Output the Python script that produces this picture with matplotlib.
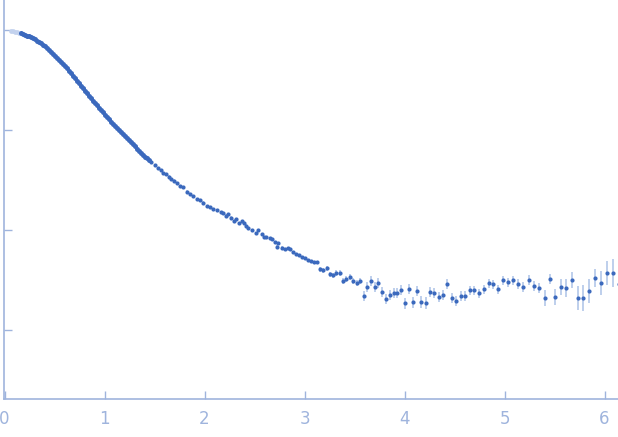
import matplotlib
matplotlib.use('Agg')
import numpy as np
import matplotlib.pyplot as plt

# scattering curve, values (log10 of intensity)
q_excl = [0.06, 0.08, 0.10, 0.12, 0.14]
logi_excl = [-0.010, -0.013, -0.017, -0.021, -0.026]

q_low = [0.16, 0.18, 0.20, 0.22, 0.24, 0.26, 0.28, 0.30, 0.32, 0.34,
         0.36, 0.38, 0.40, 0.42, 0.44, 0.46, 0.48, 0.50, 0.52, 0.54,
         0.56, 0.58, 0.60, 0.62, 0.64, 0.66, 0.68, 0.70, 0.72, 0.74,
         0.76, 0.78, 0.80, 0.82, 0.84, 0.86, 0.88, 0.90, 0.92, 0.94,
         0.96, 0.98, 1.00, 1.02, 1.04, 1.06, 1.08, 1.10, 1.12, 1.14,
         1.16, 1.18, 1.20, 1.22, 1.24, 1.26, 1.28, 1.30, 1.32, 1.34,
         1.36, 1.38, 1.40, 1.42, 1.44]
logi_low = [-0.033, -0.040, -0.048, -0.056, -0.064, -0.073, -0.084, -0.095, -0.107, -0.120,
            -0.133, -0.148, -0.164, -0.181, -0.199, -0.217, -0.236, -0.256, -0.276, -0.296,
            -0.317, -0.339, -0.362, -0.385, -0.409, -0.433, -0.458, -0.483, -0.508, -0.534,
            -0.560, -0.585, -0.610, -0.634, -0.659, -0.683, -0.707, -0.730, -0.754, -0.777,
            -0.800, -0.823, -0.847, -0.870, -0.894, -0.917, -0.937, -0.957, -0.977, -0.997,
            -1.017, -1.037, -1.057, -1.077, -1.097, -1.117, -1.140, -1.163, -1.186, -1.210,
            -1.233, -1.250, -1.267, -1.284, -1.300]

q_mid = [1.467, 1.500, 1.533, 1.560, 1.587, 1.610, 1.643, 1.667, 1.693, 1.720,
         1.753, 1.787, 1.820, 1.853, 1.887, 1.920, 1.953, 1.987, 2.020, 2.053,
         2.087, 2.127, 2.160, 2.183, 2.210, 2.237, 2.260, 2.293, 2.317, 2.343,
         2.370, 2.393, 2.417, 2.437, 2.470, 2.510, 2.537, 2.570, 2.593, 2.617,
         2.650, 2.670, 2.703, 2.727, 2.737, 2.770, 2.803, 2.833, 2.853, 2.883,
         2.913, 2.943, 2.973, 3.003, 3.033, 3.063, 3.093, 3.123]
logi_mid = [-1.317, -1.350, -1.383, -1.405, -1.433, -1.440, -1.467, -1.493, -1.507, -1.533,
            -1.560, -1.573, -1.617, -1.640, -1.660, -1.693, -1.700, -1.727, -1.760, -1.773,
            -1.793, -1.805, -1.823, -1.833, -1.857, -1.843, -1.877, -1.910, -1.890, -1.933,
            -1.910, -1.933, -1.957, -1.983, -2.000, -2.033, -2.000, -2.043, -2.067, -2.067,
            -2.083, -2.090, -2.123, -2.167, -2.133, -2.177, -2.193, -2.183, -2.193, -2.223,
            -2.243, -2.253, -2.273, -2.283, -2.303, -2.313, -2.323, -2.323]

q_high = [3.153, 3.183, 3.223, 3.253, 3.283, 3.313, 3.353, 3.383, 3.413, 3.453,
          3.483, 3.523, 3.553, 3.593, 3.623, 3.663, 3.703, 3.733, 3.773, 3.813,
          3.853, 3.893, 3.923, 3.963, 4.003, 4.043, 4.083, 4.123, 4.163, 4.213,
          4.253, 4.293, 4.343, 4.383, 4.423, 4.473, 4.513, 4.563, 4.603, 4.653,
          4.693, 4.743, 4.793, 4.843, 4.883, 4.933, 4.983, 5.033, 5.083, 5.133,
          5.183, 5.243, 5.293, 5.343, 5.403, 5.453, 5.503, 5.563, 5.613, 5.673,
          5.733, 5.783, 5.843, 5.903, 5.963, 6.023, 6.083, 6.143]
logi_high = [-2.393, -2.403, -2.383, -2.443, -2.453, -2.433, -2.433, -2.513, -2.493, -2.473,
             -2.513, -2.533, -2.513, -2.663, -2.573, -2.513, -2.573, -2.533, -2.623, -2.693,
             -2.653, -2.633, -2.633, -2.603, -2.733, -2.593, -2.723, -2.613, -2.723, -2.733,
             -2.623, -2.633, -2.673, -2.653, -2.543, -2.683, -2.713, -2.663, -2.663, -2.603,
             -2.603, -2.633, -2.593, -2.533, -2.543, -2.593, -2.503, -2.523, -2.503, -2.543,
             -2.573, -2.503, -2.563, -2.583, -2.683, -2.493, -2.673, -2.573, -2.583, -2.503,
             -2.683, -2.683, -2.613, -2.483, -2.533, -2.433, -2.433, -2.543]
# error bar half widths, in decades
err_high = [0.027, 0.027, 0.027, 0.027, 0.027, 0.03, 0.03, 0.03, 0.03, 0.03,
            0.03, 0.03, 0.03, 0.05, 0.05, 0.05, 0.05, 0.05, 0.05, 0.05,
            0.05, 0.05, 0.05, 0.05, 0.055, 0.05, 0.055, 0.05, 0.06, 0.06,
            0.05, 0.05, 0.05, 0.05, 0.05, 0.05, 0.05, 0.05, 0.05, 0.045,
            0.045, 0.045, 0.045, 0.045, 0.045, 0.045, 0.045, 0.045, 0.045, 0.05,
            0.05, 0.05, 0.05, 0.05, 0.08, 0.05, 0.08, 0.08, 0.09, 0.08,
            0.12, 0.13, 0.12, 0.09, 0.12, 0.12, 0.14, 0.08]

dark = '#3b69bd'
light_bar = '#b9cbea'
axis_col = '#9fb4dd'

fig = plt.figure(figsize=(6.18, 4.37), dpi=100)
ax = fig.add_axes([4/618, 38/437, 614/618, 399/437])

q_rest = q_mid + q_high
logi_rest = logi_mid + logi_high
err_all = [0.006]*len(q_low) + [0.012]*len(q_mid) + err_high
q_all = q_low + q_rest
I = 10**np.array(logi_low + logi_rest)
e = np.array(err_all)
yerr = [I*(1 - 10**-e), I*(10**e - 1)]

ax.errorbar(q_all, I, yerr=yerr, fmt='none', ecolor=light_bar, elinewidth=1.3, zorder=1)
ax.plot(q_excl, 10**np.array(logi_excl), 'o', color='#c3d2ee', markersize=3.4,
        markeredgewidth=0, zorder=2)
ax.plot(q_low, 10**np.array(logi_low), 'o', color=dark, markersize=3.6, markeredgewidth=0, zorder=3)
ax.plot(q_rest, 10**np.array(logi_rest), 'o', color=dark, markersize=3.0, markeredgewidth=0, zorder=3)

ax.set_yscale('log')
ax.set_xlim(-0.005, 6.135)
ax.set_ylim(10**-3.69, 10**0.30)
ax.set_yticks([1e-3, 1e-2, 1e-1, 1])
ax.yaxis.set_minor_locator(matplotlib.ticker.NullLocator())
ax.set_yticklabels([])
ax.set_xticks([0, 1, 2, 3, 4, 5, 6])

ax.spines['right'].set_visible(False)
ax.spines['top'].set_visible(False)
for s in ['left', 'bottom']:
    ax.spines[s].set_color(axis_col)
    ax.spines[s].set_linewidth(1.2)
ax.tick_params(direction='in', length=6, width=1, color=axis_col, labelcolor=axis_col,
               labelsize=12, pad=8)

fig.savefig('out.png', dpi=100)
